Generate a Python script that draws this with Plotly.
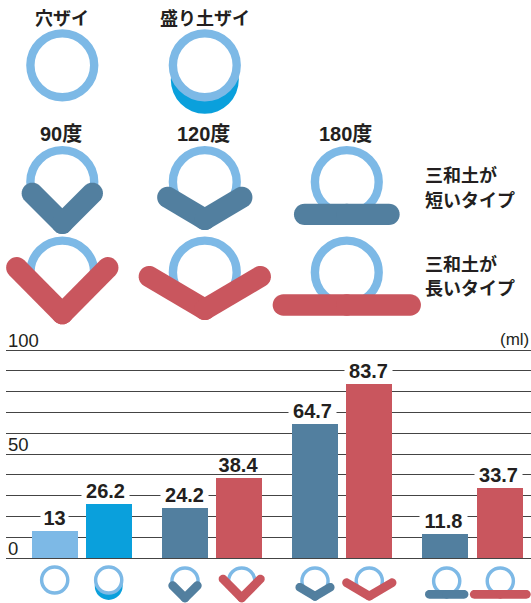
import math
import plotly.graph_objects as go

W, H = 531, 603

# ---- data ----
categories = ["穴ザイ", "盛り土ザイ", "90度・短", "90度・長", "120度・短", "120度・長", "180度・短", "180度・長"]
values = [13, 26.2, 24.2, 38.4, 64.7, 83.7, 11.8, 33.7]
value_labels = ["13", "26.2", "24.2", "38.4", "64.7", "83.7", "11.8", "33.7"]
y_gridlines = [0, 10, 20, 30, 40, 50, 60, 70, 80, 90, 100]
y_tick_labels = [0, 50, 100]
unit_label = "(ml)"

# ---- layout constants (pixels) ----
BAR_CENTERS = [55, 109, 185, 239, 315, 369, 445, 500]
LABEL_CENTERS = [54, 105.7, 184, 238, 312, 368, 443, 498.5]
BAR_WIDTH = 46
Y0_PX, Y100_PX = 558.3, 350.0
RING = "#7DB9E6"
MOUND = "#0AA0DC"
BLUE = "#527F9F"
RED = "#C9565E"
BAR_COLORS = [RING, MOUND, BLUE, RED, BLUE, RED, BLUE, RED]
INK = "#231F20"
LATIN = "Liberation Sans"
CJK = "Noto Sans CJK JP"
X_LEFT = 6

px_per_unit = (Y0_PX - Y100_PX) / 100
y_bottom = (Y0_PX - H) / px_per_unit
y_top = Y0_PX / px_per_unit


def fx(px):
    return px / W


def fy(py):
    return 1 - py / H


def ring(cx, cy, r, lw, fill=None):
    s = dict(type="circle", xref="paper", yref="paper",
             x0=fx(cx - r), x1=fx(cx + r), y0=fy(cy + r), y1=fy(cy - r),
             line=dict(color=RING, width=lw), layer="above")
    if fill:
        s["fillcolor"] = fill
    return s


def disc(cx, cy, r, color):
    return dict(type="circle", xref="paper", yref="paper",
                x0=fx(cx - r), x1=fx(cx + r), y0=fy(cy + r), y1=fy(cy - r),
                line=dict(width=0), fillcolor=color, layer="above")


def capsule(p0, p1, w, color):
    """Rounded bar between two points as a filled path."""
    ang = math.atan2(p1[1] - p0[1], p1[0] - p0[0])
    r = w / 2
    pts = []
    for i in range(17):
        a = ang + math.pi / 2 + math.pi * i / 16
        pts.append((p0[0] + r * math.cos(a), p0[1] + r * math.sin(a)))
    for i in range(17):
        a = ang - math.pi / 2 + math.pi * i / 16
        pts.append((p1[0] + r * math.cos(a), p1[1] + r * math.sin(a)))
    d = "M " + " L ".join(f"{fx(x):.5f},{fy(y):.5f}" for x, y in pts) + " Z"
    return dict(type="path", xref="paper", yref="paper", path=d,
                fillcolor=color, line=dict(width=0), layer="above")


def icon(kind, cx, cy, k=1.0):
    """Ring + bedding shape. (cx, cy) is the ring centre."""
    out = []
    R, LW = 31.9 * k, 8.4 * k
    if kind == "mound":
        out.append(disc(cx, cy + 14.5 * k, 34 * k, MOUND))
        out.append(ring(cx, cy, R, LW, "white"))
        return out
    out.append(ring(cx, cy, R, LW))
    if kind == "hole":
        return out
    # (half-span, rise, vertex offset below ring centre, colour)
    geo = {
        "90s": (30, 30, 41.3, BLUE),
        "90l": (45.5, 46, 41.2, RED),
        "120s": (37, 22, 37.4, BLUE),
        "120l": (55.5, 32.8, 36.9, RED),
        "180s": (42.2, 0, 32.4, BLUE),
        "180l": (63.5, 0, 32.5, RED),
    }[kind]
    dx, dy, off, col = geo
    vx, vy = cx, cy + off * k
    w = 21.3 * k
    out.append(capsule((vx - dx * k, vy - dy * k), (vx, vy), w, col))
    out.append(capsule((vx, vy), (vx + dx * k, vy - dy * k), w, col))
    return out


shapes = []
# large key icons
for kind, cx, cy in [
    ("hole", 62.3, 65.3), ("mound", 204.8, 65.3),
    ("90s", 62.3, 182), ("120s", 204.8, 182), ("180s", 346.8, 182),
    ("90l", 62.3, 272.5), ("120l", 204.8, 272.5), ("180l", 346.8, 272.5),
]:
    shapes += icon(kind, cx, cy)
# small icons below the bars
for kind, cx, cy in [
    ("hole", 54.7, 580), ("mound", 108.7, 580),
    ("90s", 185, 581), ("90l", 241.7, 581),
    ("120s", 315, 581), ("120l", 369.3, 581),
    ("180s", 446.7, 581), ("180l", 500.3, 581),
]:
    shapes += icon(kind, cx, cy, 0.41)

fig = go.Figure()

fig.add_trace(go.Bar(x=BAR_CENTERS, y=values, width=BAR_WIDTH, marker=dict(color=BAR_COLORS, line=dict(width=0)),
                     customdata=categories, hovertemplate="%{customdata}: %{y}<extra></extra>", showlegend=False))

ann = []
for cx, v, t in zip(LABEL_CENTERS, values, value_labels):
    ann.append(dict(x=cx, y=v, xref="x", yref="y", text=t, showarrow=False, yanchor="middle", xanchor="center",
                    yshift=13.5, bgcolor="white", width=47 if len(t) > 2 else 27, height=15, borderpad=0,
                    font=dict(family=LATIN, size=20, color=INK, weight="bold")))
for v in y_tick_labels:
    ann.append(dict(x=7, y=v, xref="x", yref="y", text=str(v), showarrow=False, xanchor="left", yanchor="bottom",
                    yshift=-2, borderpad=0,
                    font=dict(family=LATIN, size=18.5, color=INK)))
ann.append(dict(x=529.5, y=100, xref="x", yref="y", text=unit_label, showarrow=False, xanchor="right", yanchor="bottom",
                yshift=0, borderpad=0, font=dict(family=LATIN, size=17, color=INK)))


def label(text, x, y, anchor="center", family=CJK, size=18):
    ann.append(dict(x=fx(x), y=fy(y), xref="paper", yref="paper", text=text, showarrow=False,
                    xanchor=anchor, yanchor="middle", borderpad=0,
                    font=dict(family=family, size=size, color=INK, weight="bold")))


MIXED = LATIN + ", " + CJK
label("穴ザイ", 62, 17)
label("盛り土ザイ", 204.5, 17)
label("90度", 61, 134, family=MIXED, size=20)
label("120度", 203.5, 134, family=MIXED, size=20)
label("180度", 345.5, 134, family=MIXED, size=20)
label("三和土が", 424, 174.5, "left")
label("短いタイプ", 424, 199, "left")
label("三和土が", 424, 262.5, "left")
label("長いタイプ", 424, 287, "left")

fig.update_layout(
    width=W, height=H, margin=dict(l=0, r=0, t=0, b=0),
    paper_bgcolor="white", plot_bgcolor="white", showlegend=False,
    bargap=0,
    xaxis=dict(range=[X_LEFT, W], domain=[X_LEFT / W, 1], showgrid=False, zeroline=False,
               showticklabels=False, ticks="", showline=False, fixedrange=True),
    yaxis=dict(range=[y_bottom, y_top], showgrid=True, gridcolor="#444444", gridwidth=1,
               tickmode="array", tickvals=y_gridlines, zeroline=False,
               showticklabels=False, ticks="", showline=False, fixedrange=True),
    shapes=shapes, annotations=ann,
)
fig.write_html("out.html", config={"displayModeBar": False},
               post_script="document.body.style.margin='0';")
